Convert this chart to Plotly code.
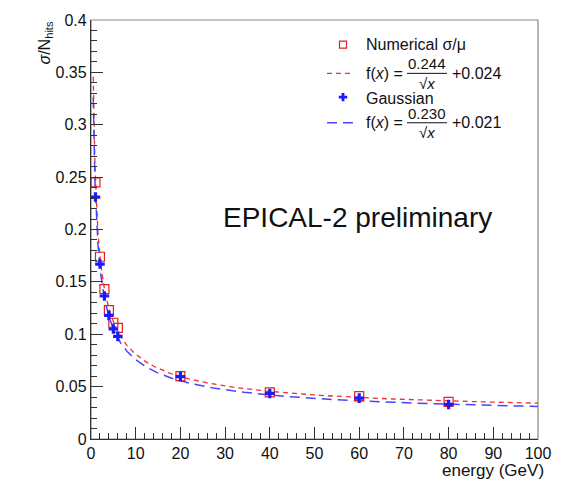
import numpy as np
import plotly.graph_objects as go

# Energy points (GeV) and relative resolution for both estimators
energy = [1, 2, 3, 4, 5, 6, 20, 40, 60, 80]
numerical_res = [0.245, 0.174, 0.143, 0.123, 0.111, 0.106, 0.060, 0.0445, 0.041, 0.0355]
gaussian_res = [0.231, 0.167, 0.1365, 0.118, 0.105, 0.098, 0.0595, 0.0435, 0.039, 0.033]

# Fit parameters: stochastic term a and constant term b
numerical_fit = [0.244, 0.024]
gaussian_fit = [0.230, 0.021]

x_tick_vals = [0, 10, 20, 30, 40, 50, 60, 70, 80, 90, 100]
y_tick_vals = [0, 0.05, 0.1, 0.15, 0.2, 0.25, 0.3, 0.35, 0.4]
y_tick_text = ["0", "0.05", "0.1", "0.15", "0.2", "0.25", "0.3", "0.35", "0.4"]

FONT = "Liberation Sans, Arial, Helvetica, sans-serif"
RED = "#f03030"
BLUE = "#4646ff"

W, H = 564, 482
L, R, T, B = 91, 26, 15, 43


def resolution(e, a, b):
    return np.sqrt(a * a / e + b * b)


e_curve = np.geomspace(0.5, 100, 500)

fig = go.Figure()

fig.add_trace(go.Scatter(
    x=e_curve, y=resolution(e_curve, *numerical_fit), mode="lines",
    line=dict(color=RED, width=1.3, dash="5px,4px"), showlegend=False,
    hoverinfo="skip"))
fig.add_trace(go.Scatter(
    x=e_curve, y=resolution(e_curve, *gaussian_fit), mode="lines",
    line=dict(color=BLUE, width=1.5, dash="10px,6px"), showlegend=False,
    hoverinfo="skip"))
fig.add_trace(go.Scatter(
    x=energy, y=numerical_res, mode="markers",
    marker=dict(symbol="square-open", size=9, color="#e02020",
                line=dict(width=1.2, color="#e02020")),
    showlegend=False))
fig.add_trace(go.Scatter(
    x=energy, y=gaussian_res, mode="markers",
    marker=dict(symbol="cross", size=8, color="#1a1aff",
                line=dict(width=0)),
    showlegend=False))

# Legend drawn in pixel space on an overlay axis pair
fig.add_trace(go.Scatter(
    x=[343], y=[40], xaxis="x2", yaxis="y2", mode="markers",
    marker=dict(symbol="square-open", size=7, color="#e02020",
                line=dict(width=1.2, color="#e02020")),
    showlegend=False, hoverinfo="skip"))
fig.add_trace(go.Scatter(
    x=[343], y=[93], xaxis="x2", yaxis="y2", mode="markers",
    marker=dict(symbol="cross", size=7, color="#1a1aff", line=dict(width=0)),
    showlegend=False, hoverinfo="skip"))
fig.add_trace(go.Scatter(
    x=[327, 354], y=[69, 69], xaxis="x2", yaxis="y2", mode="lines",
    line=dict(color=RED, width=1.3, dash="5px,4px"),
    showlegend=False, hoverinfo="skip"))
fig.add_trace(go.Scatter(
    x=[327, 354], y=[119, 119], xaxis="x2", yaxis="y2", mode="lines",
    line=dict(color=BLUE, width=1.5, dash="10px,6px"),
    showlegend=False, hoverinfo="skip"))

annotations = []


def txt(x, y, s, size=16, xanchor="left", yanchor="middle"):
    annotations.append(dict(
        x=x, y=y, xref="x2", yref="y2", borderpad=0,
        text=s, showarrow=False, xanchor=xanchor, yanchor=yanchor,
        font=dict(family=FONT, size=size, color="#111")))


shapes = []


def fraction(x0, y, num, den_text, const):
    txt(x0, y, "f(<i>x</i>) =")
    bar_l, bar_r = x0 + 42, x0 + 82
    cx = (bar_l + bar_r) / 2
    txt(cx, y, num, size=15, xanchor="center", yanchor="bottom")
    txt(cx, y + 0.5, den_text, size=15, xanchor="center", yanchor="top")
    shapes.append(dict(type="line", xref="x2", yref="y2", x0=bar_l, x1=bar_r,
                       y0=y, y1=y, line=dict(color="#111", width=1)))
    txt(bar_r + 4, y, const)


txt(365, 40, "Numerical σ/μ")
fraction(365, 69, f"{numerical_fit[0]:.3f}", "√<i>x</i>", f"+{numerical_fit[1]:.3f}")
txt(365, 94, "Gaussian")
fraction(365, 119, f"{gaussian_fit[0]:.3f}", "√<i>x</i>", f"+{gaussian_fit[1]:.3f}")

txt(222, 215, "EPICAL-2 preliminary", size=28)

# Axis titles (paper coordinates)
pw, ph = W - L - R, H - T - B
annotations.append(dict(
    x=(546 - L) / pw, y=-(471 - (H - B)) / ph, xref="paper", yref="paper",
    text="energy (GeV)", showarrow=False, xanchor="right", yanchor="middle",
    font=dict(family=FONT, size=17, color="#111")))
annotations.append(dict(
    x=(45 - L) / pw, y=1.0, xref="paper", yref="paper",
    text="<i>σ</i>/N<sub>hits</sub>", showarrow=False, textangle=-90,
    xanchor="center", yanchor="top",
    font=dict(family=FONT, size=16, color="#111")))

# Frame (top and right)
shapes.append(dict(type="rect", xref="paper", yref="paper", x0=0, x1=1, y0=0, y1=1,
                   line=dict(color="#888", width=1.2), layer="below"))

axis_common = dict(
    showgrid=False, zeroline=False, ticks="inside", ticklen=12, tickwidth=1,
    tickcolor="#333", showline=True, linecolor="#333", linewidth=1.3,
    tickfont=dict(family=FONT, size=16, color="#111"),
    ticklabelstandoff=0,
)

fig.update_layout(
    width=W, height=H,
    margin=dict(l=L, r=R, t=T, b=B),
    paper_bgcolor="white", plot_bgcolor="white",
    xaxis=dict(range=[0, 100], tickvals=x_tick_vals,
               minor=dict(dtick=2, ticks="inside", ticklen=6, tickcolor="#333"),
               **axis_common),
    yaxis=dict(range=[0, 0.4], tickvals=y_tick_vals, ticktext=y_tick_text,
               minor=dict(dtick=0.01, ticks="inside", ticklen=6, tickcolor="#333"),
               **axis_common),
    xaxis2=dict(overlaying="x", range=[L, W - R], visible=False),
    yaxis2=dict(overlaying="y", range=[H - B, T], visible=False),
    annotations=annotations,
    shapes=shapes,
)

fig.write_html("out.html")
